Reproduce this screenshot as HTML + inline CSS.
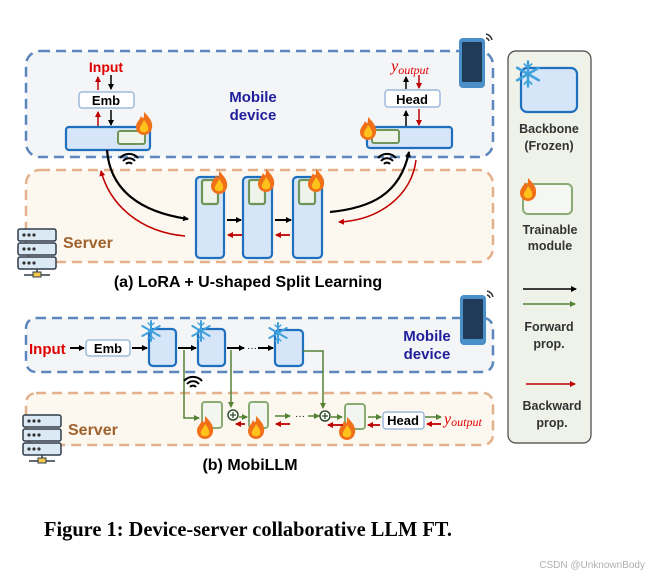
<!DOCTYPE html>
<html><head><meta charset="utf-8"><style>
html,body{margin:0;padding:0;background:#fff;width:649px;height:579px;overflow:hidden}
svg{display:block}
text{font-family:"Liberation Sans","DejaVu Sans",sans-serif}
text.serif{font-family:"Liberation Serif","DejaVu Serif",serif}
</style></head><body>
<svg width="649" height="579" viewBox="0 0 649 579" xmlns="http://www.w3.org/2000/svg">
<defs>
<marker id="ak" markerWidth="6" markerHeight="6" refX="5" refY="3" orient="auto" markerUnits="userSpaceOnUse"><path d="M0,0 L6,3 L0,6z" fill="#000"/></marker>
<marker id="ar" markerWidth="6" markerHeight="6" refX="5" refY="3" orient="auto" markerUnits="userSpaceOnUse"><path d="M0,0 L6,3 L0,6z" fill="#c00000"/></marker>
<marker id="ag" markerWidth="6" markerHeight="6" refX="5" refY="3" orient="auto" markerUnits="userSpaceOnUse"><path d="M0,0 L6,3 L0,6z" fill="#548235"/></marker>
<g id="flame">
<path d="M0,-12 C6,-6 9,-2 8,4 C7,9 3,11 0,11 C-4,11 -8,8 -8,3 C-8,-2 -4,-4 -3,-8 C-1,-5 0,-4 0,-12z" fill="#f0701a"/>
<path d="M0,-4 C3,0 5,3 4,6 C3,9 -3,9 -4,6 C-5,3 -2,1 0,-4z" fill="#ffc21a"/>
</g>
<g id="srv">
<rect x="0" y="0" width="38" height="12" rx="2" fill="#dbe9f5" stroke="#2f3b48" stroke-width="1.5"/>
<rect x="0" y="14" width="38" height="12" rx="2" fill="#dbe9f5" stroke="#2f3b48" stroke-width="1.5"/>
<rect x="0" y="28" width="38" height="12" rx="2" fill="#dbe9f5" stroke="#2f3b48" stroke-width="1.5"/>
<g fill="#333"><circle cx="6" cy="6" r="1.6"/><circle cx="11" cy="6" r="1.6"/><circle cx="16" cy="6" r="1.6"/><circle cx="6" cy="20" r="1.6"/><circle cx="11" cy="20" r="1.6"/><circle cx="16" cy="20" r="1.6"/><circle cx="6" cy="34" r="1.6"/><circle cx="11" cy="34" r="1.6"/><circle cx="16" cy="34" r="1.6"/></g>
<path d="M19,40 v6 M6,46 h26" stroke="#2f3b48" stroke-width="1.5"/>
<rect x="15" y="43" width="8" height="5" fill="#f2c94c" stroke="#2f3b48"/>
</g>
<g id="phone">
<rect x="0" y="0" width="26" height="50" rx="4" fill="#4a8fc7"/>
<rect x="3" y="4" width="20" height="40" rx="1" fill="#1f3b57"/>
<path d="M27,-4 a8,8 0 0 1 6,6 M27,0 a4,4 0 0 1 3,3" stroke="#333" stroke-width="1.5" fill="none"/>
</g>
<g id="wifi" fill="none" stroke="#000" stroke-width="2">
<path d="M-9,-3 a12,12 0 0 1 18,0"/><path d="M-6,0 a8,8 0 0 1 12,0"/><path d="M-3,3 a4,4 0 0 1 6,0"/>
</g>
<g id="snow" stroke="#3fa0dc" stroke-width="2" stroke-linecap="round">
<path d="M0,-10V10M-8.7,-5L8.7,5M-8.7,5L8.7,-5"/>
<path d="M-3,-8L0,-5L3,-8M-3,8L0,5L3,8" fill="none" stroke-width="1.3"/>
</g>
</defs>

<!-- Panel (a) -->
<rect x="26" y="51" width="467" height="106" rx="14" fill="#f4f5f7" stroke="#5b86be" stroke-width="2.5" stroke-dasharray="10,6"/>
<rect x="26" y="170" width="467" height="92" rx="14" fill="#fdf8ef" stroke="#e4b08a" stroke-width="2.5" stroke-dasharray="10,6"/>
<use href="#phone" x="459" y="38"/>
<text x="253" y="102" font-size="15" font-weight="bold" fill="#1f1f9c" text-anchor="middle">Mobile</text>
<text x="253" y="120" font-size="15" font-weight="bold" fill="#1f1f9c" text-anchor="middle">device</text>

<text x="106" y="72" font-size="14" font-weight="bold" fill="#e00000" text-anchor="middle">Input</text>
<line x1="98" y1="90" x2="98" y2="77" stroke="#c00000" stroke-width="1.5" marker-end="url(#ar)"/>
<line x1="111" y1="75" x2="111" y2="89" stroke="#000" stroke-width="1.5" marker-end="url(#ak)"/>
<rect x="79" y="92" width="55" height="16" rx="3" fill="#fff" stroke="#9db9dc" stroke-width="1.5"/>
<text x="106" y="105" font-size="13" font-weight="bold" fill="#000" text-anchor="middle">Emb</text>
<line x1="98" y1="126" x2="98" y2="112" stroke="#c00000" stroke-width="1.5" marker-end="url(#ar)"/>
<line x1="111" y1="110" x2="111" y2="125" stroke="#000" stroke-width="1.5" marker-end="url(#ak)"/>
<rect x="66" y="127" width="84" height="23" rx="3" fill="#d6e6f8" stroke="#1f6fbf" stroke-width="2.2"/>
<rect x="118" y="131" width="27" height="13" rx="2" fill="#eef4ea" stroke="#70955a" stroke-width="2"/>
<use href="#flame" x="144" y="124"/>

<text class="serif" x="410" y="71" font-size="14" font-style="italic" fill="#e00000" text-anchor="middle"><tspan font-size="16">y</tspan><tspan font-size="12" dy="3">output</tspan></text>
<line x1="406" y1="89" x2="406" y2="77" stroke="#000" stroke-width="1.5" marker-end="url(#ak)"/>
<line x1="419" y1="75" x2="419" y2="88" stroke="#c00000" stroke-width="1.5" marker-end="url(#ar)"/>
<rect x="385" y="90" width="55" height="17" rx="3" fill="#fff" stroke="#9db9dc" stroke-width="1.5"/>
<text x="412" y="104" font-size="13" font-weight="bold" fill="#000" text-anchor="middle">Head</text>
<line x1="406" y1="126" x2="406" y2="111" stroke="#000" stroke-width="1.5" marker-end="url(#ak)"/>
<line x1="419" y1="109" x2="419" y2="125" stroke="#c00000" stroke-width="1.5" marker-end="url(#ar)"/>
<rect x="367" y="127" width="85" height="21" rx="3" fill="#d6e6f8" stroke="#1f6fbf" stroke-width="2.2"/>
<rect x="372" y="130" width="27" height="13" rx="2" fill="#eef4ea" stroke="#70955a" stroke-width="2"/>
<use href="#flame" x="368" y="129"/>

<use href="#wifi" x="129" y="161"/>
<use href="#wifi" x="387" y="161"/>

<path d="M107,150 C110,190 140,212 188,219" fill="none" stroke="#000" stroke-width="2.2" marker-end="url(#ak)"/>
<path d="M185,236 C140,232 110,205 101,171" fill="none" stroke="#c00000" stroke-width="1.5" marker-end="url(#ar)"/>
<path d="M330,212 C370,208 400,195 409,152" fill="none" stroke="#000" stroke-width="2.2" marker-end="url(#ak)"/>
<path d="M416,160 C412,195 380,220 339,222" fill="none" stroke="#c00000" stroke-width="1.5" marker-end="url(#ar)"/>

<g stroke-width="2.2">
<rect x="196" y="177" width="28" height="81" rx="4" fill="#d6e6f8" stroke="#1f6fbf"/>
<rect x="243" y="177" width="29" height="81" rx="4" fill="#d6e6f8" stroke="#1f6fbf"/>
<rect x="293" y="177" width="29" height="81" rx="4" fill="#d6e6f8" stroke="#1f6fbf"/>
<rect x="202" y="180" width="16" height="24" rx="2" fill="#eef4ea" stroke="#70955a"/>
<rect x="249" y="180" width="16" height="24" rx="2" fill="#eef4ea" stroke="#70955a"/>
<rect x="299" y="180" width="16" height="24" rx="2" fill="#eef4ea" stroke="#70955a"/>
</g>
<use href="#flame" x="219" y="183"/>
<use href="#flame" x="266" y="181"/>
<use href="#flame" x="316" y="181"/>
<line x1="227" y1="220" x2="241" y2="220" stroke="#000" stroke-width="2" marker-end="url(#ak)"/>
<line x1="275" y1="220" x2="291" y2="220" stroke="#000" stroke-width="2" marker-end="url(#ak)"/>
<line x1="242" y1="235" x2="228" y2="235" stroke="#c00000" stroke-width="1.8" marker-end="url(#ar)"/>
<line x1="290" y1="235" x2="276" y2="235" stroke="#c00000" stroke-width="1.8" marker-end="url(#ar)"/>

<use href="#srv" x="18" y="229"/>
<text x="63" y="248" font-size="16" font-weight="bold" fill="#a0622d">Server</text>
<text x="248" y="287" font-size="16" font-weight="bold" fill="#000" text-anchor="middle">(a) LoRA + U-shaped Split Learning</text>

<!-- Panel (b) -->
<rect x="26" y="318" width="467" height="54" rx="10" fill="#f4f5f7" stroke="#5b86be" stroke-width="2.5" stroke-dasharray="10,6"/>
<rect x="26" y="393" width="467" height="52" rx="10" fill="#fdf8ef" stroke="#e4b08a" stroke-width="2.5" stroke-dasharray="10,6"/>
<use href="#phone" x="460" y="295"/>
<text x="427" y="341" font-size="15" font-weight="bold" fill="#1f1f9c" text-anchor="middle">Mobile</text>
<text x="427" y="359" font-size="15" font-weight="bold" fill="#1f1f9c" text-anchor="middle">device</text>

<text x="29" y="354" font-size="15" font-weight="bold" fill="#e00000">Input</text>
<line x1="70" y1="348" x2="84" y2="348" stroke="#000" stroke-width="2" marker-end="url(#ak)"/>
<rect x="86" y="340" width="44" height="16" rx="3" fill="#fff" stroke="#9db9dc" stroke-width="1.5"/>
<text x="108" y="353" font-size="13" font-weight="bold" fill="#000" text-anchor="middle">Emb</text>
<line x1="132" y1="348" x2="147" y2="348" stroke="#000" stroke-width="2" marker-end="url(#ak)"/>
<g stroke-width="2.2" fill="#d6e6f8" stroke="#1f6fbf">
<rect x="149" y="329" width="27" height="37" rx="4"/>
<rect x="198" y="329" width="27" height="37" rx="4"/>
<rect x="275" y="330" width="28" height="36" rx="4"/>
</g>
<use href="#snow" x="151" y="331"/>
<use href="#snow" x="201" y="331"/>
<use href="#snow" x="278" y="333"/>
<line x1="178" y1="348" x2="196" y2="348" stroke="#000" stroke-width="2" marker-end="url(#ak)"/>
<line x1="227" y1="348" x2="244" y2="348" stroke="#000" stroke-width="2" marker-end="url(#ak)"/>
<text x="252" y="351" font-size="10" fill="#000" text-anchor="middle">···</text>
<line x1="258" y1="348" x2="273" y2="348" stroke="#000" stroke-width="2" marker-end="url(#ak)"/>

<g fill="none" stroke="#548235" stroke-width="1.5">
<path d="M184,350 V418 H199" marker-end="url(#ag)"/>
<path d="M231,350 V407" marker-end="url(#ag)"/>
<path d="M303,351 H323 V408" marker-end="url(#ag)"/>
<path d="M239,417 H247" marker-end="url(#ag)"/>
<path d="M275,416 H290" marker-end="url(#ag)"/>
<path d="M308,416 H319" marker-end="url(#ag)"/>
<path d="M331,417 H342" marker-end="url(#ag)"/>
<path d="M368,417 H381" marker-end="url(#ag)"/>
<path d="M425,417 H441" marker-end="url(#ag)"/>
</g>
<text x="300" y="419" font-size="10" fill="#000" text-anchor="middle">···</text>
<use href="#wifi" x="193" y="384"/>
<g stroke-width="2" fill="#f3f6f0" stroke="#8aab73">
<rect x="202" y="402" width="20" height="26" rx="3"/>
<rect x="249" y="402" width="19" height="26" rx="3"/>
<rect x="345" y="404" width="20" height="25" rx="3"/>
</g>
<use href="#flame" x="205" y="428"/>
<use href="#flame" x="256" y="428"/>
<use href="#flame" x="347" y="429"/>
<g stroke="#2f4f2f" stroke-width="1.5" fill="#fff">
<circle cx="233" cy="415" r="5"/><circle cx="325" cy="416" r="5"/>
</g>
<path d="M230,415h6M233,412v6M322,416h6M325,413v6" stroke="#2f4f2f" stroke-width="1.3"/>
<rect x="383" y="412" width="41" height="17" rx="3" fill="#fff" stroke="#9db9dc" stroke-width="1.5"/>
<text x="403" y="425" font-size="13" font-weight="bold" fill="#000" text-anchor="middle">Head</text>
<text class="serif" x="444" y="424" font-style="italic" fill="#e00000"><tspan font-size="16">y</tspan><tspan font-size="12" dy="2">output</tspan></text>
<g stroke="#c00000" stroke-width="1.8">
<line x1="245" y1="424" x2="236" y2="424" marker-end="url(#ar)"/>
<line x1="290" y1="424" x2="276" y2="424" marker-end="url(#ar)"/>
<line x1="343" y1="425" x2="328" y2="425" marker-end="url(#ar)"/>
<line x1="380" y1="425" x2="368" y2="425" marker-end="url(#ar)"/>
<line x1="441" y1="424" x2="427" y2="424" marker-end="url(#ar)"/>
</g>
<use href="#srv" x="23" y="415"/>
<text x="68" y="435" font-size="16" font-weight="bold" fill="#a0622d">Server</text>
<text x="250" y="470" font-size="16" font-weight="bold" fill="#000" text-anchor="middle">(b) MobiLLM</text>

<!-- Legend -->
<rect x="508" y="51" width="83" height="392" rx="8" fill="#eef2e8" stroke="#444" stroke-width="1.2"/>
<rect x="521" y="68" width="56" height="44" rx="6" fill="#d6e6f8" stroke="#1f6fbf" stroke-width="2.2"/>
<use href="#snow" x="528" y="74" transform="translate(-132,-18.5) scale(1.25)"/>
<text x="549" y="133" font-size="12.5" font-weight="bold" fill="#333" text-anchor="middle">Backbone</text>
<text x="549" y="150" font-size="12.5" font-weight="bold" fill="#333" text-anchor="middle">(Frozen)</text>
<rect x="523" y="184" width="49" height="30" rx="5" fill="#f5f7f2" stroke="#8aab73" stroke-width="2"/>
<use href="#flame" x="528" y="190"/>
<text x="550" y="234" font-size="12.5" font-weight="bold" fill="#333" text-anchor="middle">Trainable</text>
<text x="550" y="250" font-size="12.5" font-weight="bold" fill="#333" text-anchor="middle">module</text>
<line x1="523" y1="289" x2="576" y2="289" stroke="#000" stroke-width="1.5" marker-end="url(#ak)"/>
<line x1="523" y1="304" x2="575" y2="304" stroke="#548235" stroke-width="1.5" marker-end="url(#ag)"/>
<text x="549" y="331" font-size="12.5" font-weight="bold" fill="#333" text-anchor="middle">Forward</text>
<text x="549" y="348" font-size="12.5" font-weight="bold" fill="#333" text-anchor="middle">prop.</text>
<line x1="526" y1="384" x2="575" y2="384" stroke="#c00000" stroke-width="1.5" marker-end="url(#ar)"/>
<text x="552" y="410" font-size="12.5" font-weight="bold" fill="#333" text-anchor="middle">Backward</text>
<text x="552" y="427" font-size="12.5" font-weight="bold" fill="#333" text-anchor="middle">prop.</text>

<text class="serif" x="44" y="536" font-size="21" font-weight="bold" fill="#000" textLength="408" lengthAdjust="spacingAndGlyphs">Figure 1: Device-server collaborative LLM FT.</text>
<text x="645" y="568" font-size="10" fill="#b0b0b0" text-anchor="end">CSDN @UnknownBody</text>
</svg>
</body></html>
